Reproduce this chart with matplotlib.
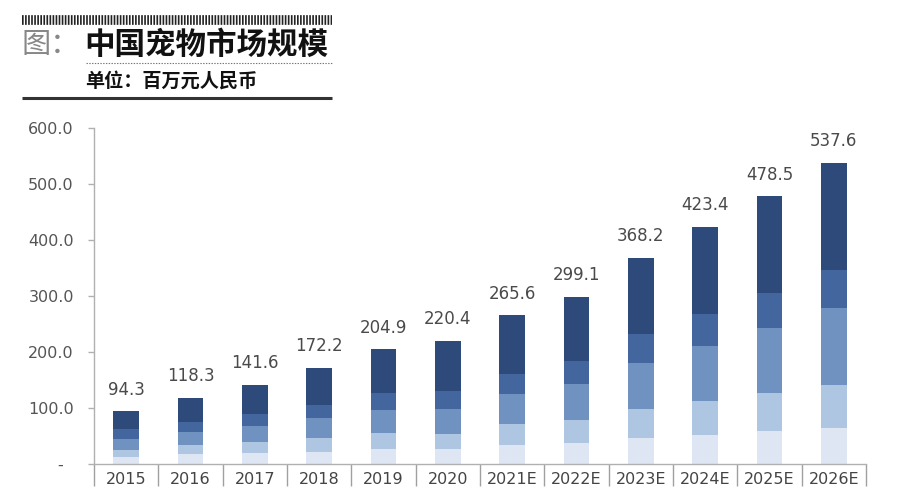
import matplotlib
matplotlib.use("Agg")
import matplotlib.pyplot as plt
from matplotlib.lines import Line2D
from matplotlib.ticker import FixedLocator, FuncFormatter
import numpy as np

plt.rcParams['font.family'] = ['DejaVu Sans']
plt.rcParams['lines.scale_dashes'] = False

categories = ["2015", "2016", "2017", "2018", "2019", "2020",
              "2021E", "2022E", "2023E", "2024E", "2025E", "2026E"]
totals = [94.3, 118.3, 141.6, 172.2, 204.9, 220.4,
          265.6, 299.1, 368.2, 423.4, 478.5, 537.6]
seg1 = [12.5, 18, 20, 21, 27, 27, 34, 37.5, 46, 52, 59, 64]
seg2 = [12.5, 16, 19, 25, 28, 27, 37, 41.5, 52, 60, 68, 77]
seg3 = [20, 23, 29, 36, 41, 44, 54, 64, 82, 99, 116, 138]
seg4 = [17.5, 18, 21, 23, 31, 32, 36, 41, 52, 57, 62, 67]
seg5 = [31.8, 43.3, 52.6, 67.2, 77.9, 90.4, 104.6, 115.1, 136.2, 155.4, 173.5, 191.6]
yticks = [0, 100, 200, 300, 400, 500, 600]

title_prefix = "图："
title = "中国宠物市场规模"
subtitle = "单位：百万元人民币"

colors = ["#dde6f2", "#aec6e2", "#7092c1", "#44669e", "#2e4a7a"]

W, H = 900, 501
fig = plt.figure(figsize=(9, 5.01), dpi=100)
fig.patch.set_facecolor("white")

def fx(x):
    return x / W

def fy(y):
    return 1 - y / H

ax = fig.add_axes([fx(94), fy(464), (866 - 94) / W, (464 - 128) / H])

x = np.arange(len(categories))
bottom = np.zeros(len(categories))
for seg, c in zip([seg1, seg2, seg3, seg4, seg5], colors):
    ax.bar(x, seg, bottom=bottom, width=0.40, color=c, edgecolor="none", zorder=2)
    bottom += np.array(seg)

for xi, t in zip(x, totals):
    ax.annotate(f"{t:.1f}", (xi, t), xytext=(0, 9), textcoords="offset points",
                ha="center", va="bottom", fontsize=12, color="#4a4a4a")

ax.set_xlim(-0.5, len(categories) - 0.5)
ax.set_ylim(0, 600)

for s in ["top", "right"]:
    ax.spines[s].set_visible(False)
ax.spines["left"].set_color("#b0b0b0")
ax.spines["bottom"].set_color("#b0b0b0")
ax.spines["left"].set_linewidth(1.0)
ax.spines["bottom"].set_linewidth(1.0)

ax.set_yticks(yticks)
ax.yaxis.set_major_formatter(FuncFormatter(lambda v, p: "-  " if v == 0 else f"{v:.1f}"))
ax.tick_params(axis="y", direction="out", length=4.5, width=1.0, color="#b0b0b0",
               labelsize=11.5, labelcolor="#555555", pad=10)

ax.set_xticks(x)
ax.set_xticklabels(categories)
ax.xaxis.set_minor_locator(FixedLocator(np.arange(-0.5, len(categories), 1.0)))
ax.tick_params(axis="x", which="major", length=0, labelsize=11.5, labelcolor="#444444", pad=6)
ax.tick_params(axis="x", which="minor", direction="out", length=16, width=1.0, color="#a0a0a0")

# header
cjk = ['Noto Sans CJK SC', 'DejaVu Sans']
fig.add_artist(Line2D([fx(22), fx(332)], [fy(20), fy(20)], transform=fig.transFigure,
                      color="#222222", linewidth=7, dashes=(1.2, 1.0)))
fig.text(fx(21), fy(45), title_prefix, family=cjk, fontsize=21, color="#888888",
         va="center", ha="left")
fig.text(fx(84), fy(45), title, family=cjk, fontsize=22, fontweight="bold",
         color="#111111", va="center", ha="left")
fig.add_artist(Line2D([fx(86), fx(332)], [fy(63), fy(63)], transform=fig.transFigure,
                      color="#777777", linewidth=0.8, dashes=(1.0, 1.0)))
fig.text(fx(85), fy(81), subtitle, family=cjk, fontsize=13.8, fontweight="bold",
         color="#111111", va="center", ha="left")
fig.add_artist(Line2D([fx(22), fx(332)], [fy(98), fy(98)], transform=fig.transFigure,
                      color="#333333", linewidth=2.2, solid_capstyle="butt"))

fig.savefig("out.png", dpi=100, facecolor="white")
